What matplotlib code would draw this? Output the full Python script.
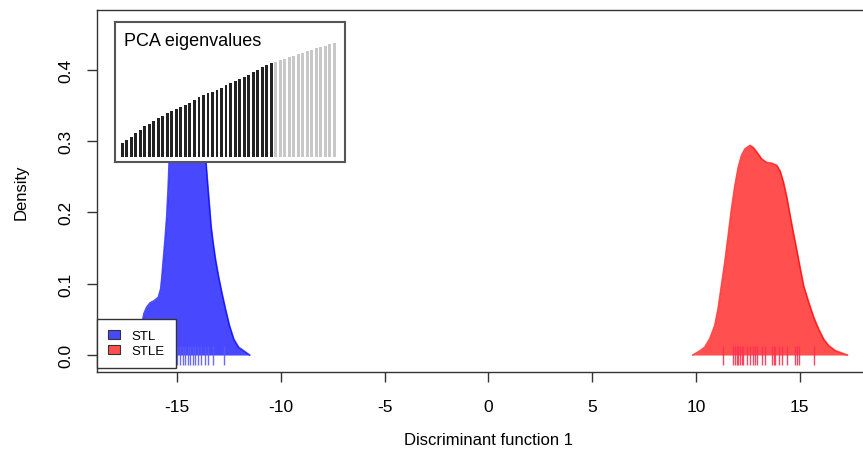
import numpy as np
from matplotlib import pyplot as plt
from matplotlib.patches import Patch

plt.rcParams['font.family'] = ['Liberation Sans', 'DejaVu Sans']
plt.rcParams['axes.unicode_minus'] = False

###
# Data
###

# density curve of discriminant function 1, group STL (top hidden under the inset)
stl_x = [-17.35, -17.15, -16.95, -16.8, -16.684, -16.604, -16.474, -16.312, -16.118, -15.908,
         -15.795, -15.746, -15.665, -15.584, -15.504, -15.439, -15.39,
         -15.3, -15.15, -14.95, -14.7, -14.45, -14.2, -13.95, -13.75,
         -13.61, -13.561, -13.497, -13.432, -13.367, -13.27, -13.157, -13.011, -12.85, -12.671,
         -12.477, -12.267, -12.04, -11.749, -11.507]
stl_y = [0.0, 0.005, 0.015, 0.03, 0.046, 0.058, 0.067, 0.073, 0.076, 0.081,
         0.093, 0.107, 0.135, 0.163, 0.195, 0.233, 0.270,
         0.32, 0.37, 0.41, 0.435, 0.44, 0.425, 0.39, 0.32,
         0.270, 0.251, 0.228, 0.205, 0.181, 0.158, 0.135, 0.111, 0.088, 0.0645,
         0.041, 0.022, 0.011, 0.005, 0.0]

# density curve, group STLE
stle_x = [9.853, 10.176, 10.419, 10.662, 10.904, 11.066, 11.228, 11.39, 11.552, 11.714,
          11.875, 12.037, 12.199, 12.361, 12.604, 12.765, 12.927, 13.17, 13.413, 13.655,
          13.898, 14.06, 14.222, 14.383, 14.545, 14.707, 14.869, 15.031, 15.193, 15.436,
          15.678, 15.921, 16.164, 16.406, 16.73, 17.296]
stle_y = [0.0, 0.0056, 0.0107, 0.0224, 0.0411, 0.0645, 0.0972, 0.130, 0.167, 0.205,
          0.237, 0.263, 0.280, 0.289, 0.294, 0.291, 0.285, 0.275, 0.270, 0.269,
          0.266, 0.258, 0.242, 0.221, 0.195, 0.170, 0.146, 0.121, 0.097, 0.074,
          0.053, 0.036, 0.022, 0.013, 0.006, 0.0]

# individual scores (rug)
stl_rug = [-16.2, -15.9, -15.6, -15.4, -15.23, -15.12, -14.99, -14.85, -14.74, -14.63,
           -14.50, -14.37, -14.26, -14.14, -14.01, -13.85, -13.68, -13.52, -13.28, -12.75]
stle_rug = [11.31, 11.80, 11.87, 11.96, 12.04, 12.12, 12.20, 12.28, 12.44, 12.60,
            12.77, 12.84, 12.93, 13.17, 13.33, 13.66, 13.74, 13.82, 13.98, 14.14,
            14.38, 14.79, 14.87, 14.95, 15.68]

# PCA eigenvalue bars for the inset (retained ones drawn black)
eig_vals = [14, 17.3, 20.6, 24, 27.3, 31, 33.3, 36.6, 39, 41.6,
            44.3, 46.6, 48.3, 50.6, 52.6, 54.3, 57.3, 60, 62, 64,
            65.6, 67.6, 69.6, 72.3, 74.3, 76.6, 78.3, 80, 82.5, 85,
            87.5, 90, 92, 94.3, 95.6, 97, 98.5, 100, 101.5, 103,
            104.5, 106, 107.5, 109, 110.5, 111.8, 113, 114]
n_retained = 34

groups = ['STL', 'STLE']
fill_cols = ['#4848ff', '#ff4f4f']
line_cols = ['#0000ff', '#ff0000']
rug_cols = ['#5a5aff', '#ff3050']

###
# Plotting
###

fig = plt.figure(figsize=(8.63, 4.56), dpi=100)
W, H = 863, 456

def px_axes(left, top, right, bottom):
	# axes box from pixel edges of the reference
	return fig.add_axes([left / W, 1 - bottom / H, (right - left) / W, (bottom - top) / H])

ax = px_axes(96.7, 11, 880, 373)

for xs, ys, fc, lc in zip([stl_x, stle_x], [stl_y, stle_y], fill_cols, line_cols):
	ax.fill_between(xs, 0, ys, color=fc, lw=0, zorder=2)
	ax.plot(xs, ys, color=lc, lw=1.2, alpha=0.7, zorder=3, solid_joinstyle='round')

for rug, rc in zip([stl_rug, stle_rug], rug_cols):
	ax.vlines(rug, -0.0145, 0.0125, colors=rc, lw=1, alpha=0.9, zorder=4)

ax.set_xlim(-18.88, 18.87)
ax.set_ylim(-0.0238, 0.4839)
ax.set_xticks([-15, -10, -5, 0, 5, 10, 15])
ax.set_yticks([0.0, 0.1, 0.2, 0.3, 0.4])
ax.set_yticklabels(['0.0', '0.1', '0.2', '0.3', '0.4'], rotation=90, va='center')
ax.tick_params(direction='out', length=7.5, width=1, color='#333333',
			   labelsize=12.5, pad=9)
ax.tick_params(axis='x', pad=12)
for s in ax.spines.values():
	s.set_color('#333333')
	s.set_linewidth(1)

ax.set_xlabel('Discriminant function 1', fontsize=12, labelpad=13)
ax.set_ylabel('Density', fontsize=12, labelpad=22)

handles = [Patch(facecolor=fc, edgecolor='#333333', lw=0.8) for fc in fill_cols]
leg = ax.legend(handles, groups, loc='lower left', bbox_to_anchor=(0, 0.01),
				borderaxespad=0, fontsize=9.5, handlelength=0.9, handleheight=0.7,
				handletextpad=0.9, labelspacing=0.2, borderpad=0.85, fancybox=False,
				framealpha=1, edgecolor='#333333')
leg.get_frame().set_linewidth(1)
leg.set_zorder(10)

# inset with PCA eigenvalues
ins = px_axes(115, 22.7, 345, 162.7)
idx = np.arange(len(eig_vals))
bar_cols = ['#222222' if i < n_retained else '#c8c8c8' for i in idx]
ins.bar(idx, eig_vals, width=0.65, color=bar_cols, lw=0)
ins.set_xlim(-1.62, 49.38)
ins.set_ylim(-4.4, 135.6)
ins.set_xticks([])
ins.set_yticks([])
for s in ins.spines.values():
	s.set_color('#555555')
	s.set_linewidth(1.5)
ins.text(0.04, 0.865, 'PCA eigenvalues', transform=ins.transAxes, fontsize=13,
		 va='center', ha='left')

fig.savefig('out.png', dpi=100)
